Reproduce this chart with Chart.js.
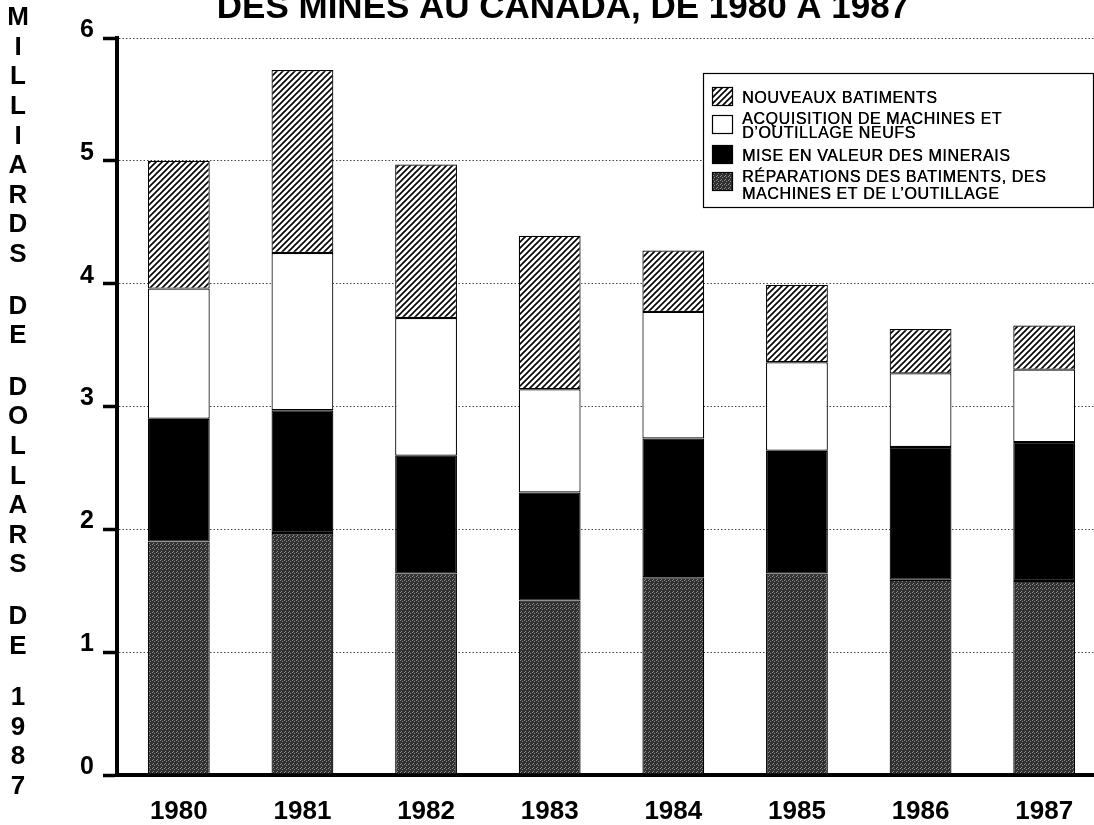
<!DOCTYPE html>
<html>
<head>
<meta charset="utf-8">
<script src="https://cdn.jsdelivr.net/npm/chart.js@4.4.1/dist/chart.umd.min.js"></script>
<style>
    html, body { margin: 0; padding: 0; background: #fff; overflow: hidden; }
    #wrap { width: 1106px; height: 825px; }
</style>
</head>
<body>
<div id="wrap"><canvas id="chartMijnen" width="1106" height="825"></canvas></div>
<script>
// =============================================================================
// DATA - investeringen in de mijnbouw, miljarden dollars van 1987
// =============================================================================

const jaren = ['1980', '1981', '1982', '1983', '1984', '1985', '1986', '1987'];

const reparaties   = [1.90, 1.97, 1.64, 1.42, 1.61, 1.64, 1.59, 1.58];
const misEnValeur  = [1.00, 1.00, 0.96, 0.88, 1.13, 1.00, 1.08, 1.13];
const machines     = [1.06, 1.28, 1.12, 0.84, 1.03, 0.72, 0.60, 0.59];
const gebouwen     = [1.04, 1.49, 1.25, 1.25, 0.50, 0.63, 0.36, 0.36];

const yTicks = [0, 1, 2, 3, 4, 5, 6];

const titel = 'DES MINES AU CANADA, DE 1980 A 1987';
const yTitel = 'MILLIARDS DE DOLLARS DE 1987';

const legendeRegels = [
    ['NOUVEAUX BATIMENTS'],
    ['ACQUISITION DE MACHINES ET', 'D\u2019OUTILLAGE NEUFS'],
    ['MISE EN VALEUR DES MINERAIS'],
    ['R\u00c9PARATIONS DES BATIMENTS, DES', 'MACHINES ET DE L\u2019OUTILLAGE']
];

// =============================================================================
// PATRONEN
// =============================================================================

const FONT = '"Liberation Sans", Arial, sans-serif';
const canvas = document.getElementById('chartMijnen');
const ctx = canvas.getContext('2d');

function maakArcering() {
    const s = 6;
    const c = document.createElement('canvas');
    c.width = s; c.height = s;
    const g = c.getContext('2d');
    g.fillStyle = '#fff';
    g.fillRect(0, 0, s, s);
    g.strokeStyle = '#000';
    g.lineWidth = 1.6;
    g.beginPath();
    g.moveTo(0, s); g.lineTo(s, 0);
    g.moveTo(-s / 2, s / 2); g.lineTo(s / 2, -s / 2);
    g.moveTo(s / 2, s * 1.5); g.lineTo(s * 1.5, s / 2);
    g.stroke();
    return ctx.createPattern(c, 'repeat');
}

function maakStippel() {
    const c = document.createElement('canvas');
    c.width = 4; c.height = 4;
    const g = c.getContext('2d');
    g.fillStyle = '#303030';
    g.fillRect(0, 0, 4, 4);
    g.fillStyle = '#8c8c8c';
    [[0, 0], [2, 1], [1, 3]].forEach(([x, y]) => g.fillRect(x, y, 1, 1));
    return ctx.createPattern(c, 'repeat');
}

const arcering = maakArcering();
const stippel = maakStippel();

// =============================================================================
// PLUGINS - titel, verticale astitel en legende
// =============================================================================

const tekstPlugin = {
    id: 'tekstPlugin',
    afterDraw(chart) {
        const c = chart.ctx;
        c.save();
        c.fillStyle = '#000';

        // titel (bovenkant valt buiten beeld)
        c.font = `bold 35px ${FONT}`;
        c.textAlign = 'center';
        c.textBaseline = 'alphabetic';
        c.fillText(titel, 563, 18);

        // verticale letters
        c.font = `bold 26px ${FONT}`;
        c.textBaseline = 'middle';
        let y = 18;
        for (const ch of yTitel) {
            if (ch === ' ') { y += 22; continue; }
            c.fillText(ch, 18, y);
            y += 29.6;
        }

        // legende
        c.lineWidth = 1.2;
        c.strokeStyle = '#000';
        c.fillStyle = '#fff';
        c.fillRect(703, 73, 392, 134);
        c.strokeRect(703.5, 73.5, 390, 134);

        const vakjes = [87, 115, 145, 172];
        const vulling = [arcering, '#fff', '#000', stippel];
        const basis = [[103], [124, 138], [161], [182, 199]];
        legendeRegels.forEach((regels, i) => {
            c.fillStyle = vulling[i];
            c.fillRect(712, vakjes[i], 21, 19);
            c.strokeRect(712.5, vakjes[i] + 0.5, 20, 18);
            c.fillStyle = '#000';
            c.font = `500 16px ${FONT}`;
            c.letterSpacing = '0.6px';
            c.textAlign = 'left';
            c.textBaseline = 'alphabetic';
            regels.forEach((r, j) => {
                c.fillText(r, 742, basis[i][j]);
                c.fillText(r, 742.4, basis[i][j]);
            });
        });
        c.restore();
    }
};

// =============================================================================
// GRAFIEK
// =============================================================================

const serie = (label, data, kleur) => ({
    label,
    data,
    backgroundColor: kleur,
    borderColor: '#000',
    borderWidth: 1.2,
    borderSkipped: false,
    barPercentage: 0.5,
    categoryPercentage: 1.0
});

new Chart(canvas, {
    type: 'bar',
    data: {
        labels: jaren,
        datasets: [
            serie(legendeRegels[3].join(' '), reparaties, stippel),
            serie(legendeRegels[2].join(' '), misEnValeur, '#000'),
            serie(legendeRegels[1].join(' '), machines, '#fff'),
            serie(legendeRegels[0].join(' '), gebouwen, arcering)
        ]
    },
    options: {
        responsive: false,
        animation: false,
        layout: { padding: { top: 38, left: 0, right: 0, bottom: 0 } },
        plugins: {
            legend: { display: false },
            title: { display: false },
            tooltip: { enabled: false }
        },
        scales: {
            x: {
                stacked: true,
                grid: { display: false, drawTicks: false },
                border: { display: true, color: '#000', width: 4 },
                ticks: {
                    color: '#000',
                    padding: 21,
                    font: { family: FONT, size: 26, weight: 'bold' }
                },
                afterFit: s => { s.height = 50; }
            },
            y: {
                stacked: true,
                min: 0,
                max: 6,
                afterBuildTicks: s => { s.ticks = yTicks.map(v => ({ value: v })); },
                grid: {
                    color: '#444',
                    lineWidth: 1,
                    tickLength: 14,
                    tickColor: '#000',
                    tickWidth: 3.5,
                    tickBorderDash: []
                },
                border: { display: true, color: '#000', width: 4, dash: [1.5, 2] },
                ticks: {
                    color: '#000',
                    padding: 9,
                    labelOffset: -8,
                    font: { family: FONT, size: 25, weight: 'bold' }
                },
                afterFit: s => { s.width = 117; }
            }
        }
    },
    plugins: [tekstPlugin]
});
</script>
</body>
</html>
